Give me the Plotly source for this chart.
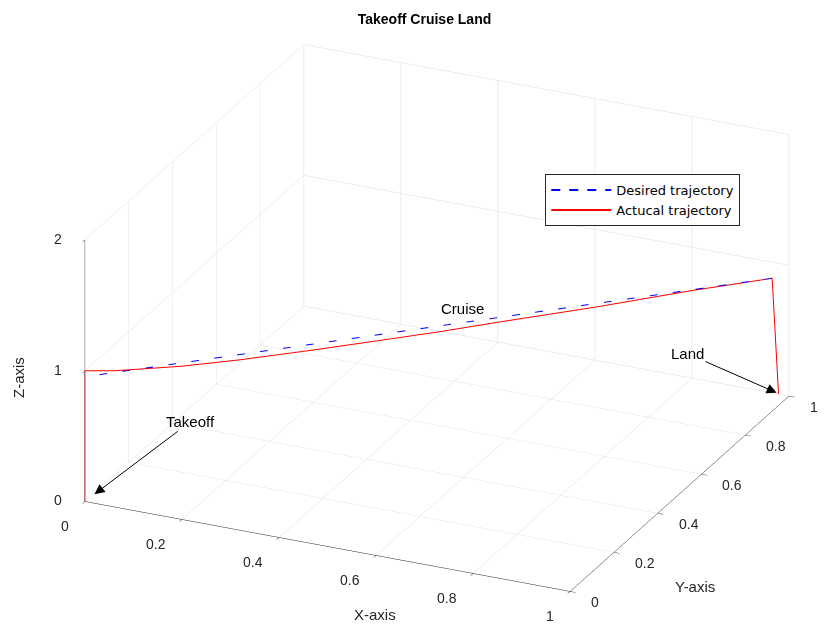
import math
import plotly.graph_objects as go

# desired path (takeoff -> cruise -> land)
des_x = [0.0, 0.0, 0.976, 0.985]
des_y = [0.0, 0.0, 0.976, 0.985]
des_z = [0.0, 0.954, 0.92, 0.03]

act_x = [0.0, 0.0, 0.042, 0.136, 0.22, 0.323, 0.417, 0.501, 0.586, 0.726, 0.862, 0.976, 0.985]
act_y = [0.0, 0.0, 0.042, 0.136, 0.22, 0.323, 0.417, 0.501, 0.586, 0.726, 0.862, 0.976, 0.985]
act_z = [0.0, 1.0, 0.966, 0.924, 0.906, 0.897, 0.894, 0.892, 0.898, 0.902, 0.918, 0.92, 0.03]

xy_ticks = [0, 0.2, 0.4, 0.6, 0.8, 1]
xy_labels = ["0", "0.2", "0.4", "0.6", "0.8", "1"]
z_ticks = [0, 1, 2]
z_labels = ["0", "1", "2"]

FONT = "Liberation Sans, Arial, sans-serif"
AXCOL = "#262626"

# view (MATLAB-like orthographic)
el = math.radians(24)
az = math.radians(-65.5)
eye = dict(x=2 * math.cos(el) * math.cos(az),
           y=2 * math.cos(el) * math.sin(az),
           z=2 * math.sin(el))
zoom = 1.72

fig = go.Figure()
fig.add_trace(go.Scatter3d(x=des_x, y=des_y, z=des_z, mode="lines",
                           line=dict(color="blue", width=2, dash="dash"),
                           name="Desired trajectory"))
fig.add_trace(go.Scatter3d(x=act_x, y=act_y, z=act_z, mode="lines",
                           line=dict(color="red", width=2),
                           name="Actucal trajectory"))

axis_common = dict(showbackground=False, gridcolor="#dddddd", gridwidth=1,
                   showline=True, linecolor=AXCOL, linewidth=1,
                   ticks="outside", tickcolor=AXCOL, ticklen=6,
                   showticklabels=False,
                   zeroline=False, showspikes=False, title=dict(text=""))

tick_font = dict(family=FONT, size=14, color=AXCOL)
scene_ann = []
for v, t in zip(xy_ticks, xy_labels):
    scene_ann.append(dict(x=v, y=0, z=0, text=t, showarrow=False, font=tick_font,
                          xanchor="right", xshift=-14, yshift=-25))
for v, t in zip(xy_ticks, xy_labels):
    scene_ann.append(dict(x=1, y=v, z=0, text=t, showarrow=False, font=tick_font,
                          xanchor="left", xshift=19, yshift=-11))
for v, t in zip(z_ticks, z_labels):
    scene_ann.append(dict(x=0, y=0, z=v, text=t, showarrow=False, font=tick_font,
                          xanchor="right", xshift=-21, yshift=1))

scene_ann += [
    dict(x=0, y=0, z=0, text="Takeoff", showarrow=True, standoff=12,
         arrowhead=2, arrowsize=2, arrowwidth=1, arrowcolor="black",
         ax=106, ay=-80, font=dict(family=FONT, size=15, color="black")),
    dict(x=0.985, y=0.985, z=0.03, text="Land", showarrow=True, standoff=2,
         arrowhead=2, arrowsize=2, arrowwidth=1, arrowcolor="black",
         ax=-91, ay=-40, font=dict(family=FONT, size=15, color="black")),
]

fig.update_layout(
    width=833, height=639,
    paper_bgcolor="white",
    margin=dict(l=0, r=0, t=0, b=0),
    title=dict(text="<b>Takeoff Cruise Land</b>", x=0.5, y=0.99, xanchor="center",
               yanchor="top", font=dict(family=FONT, size=14, color="black")),
    scene=dict(
        domain=dict(x=[0.042, 0.988], y=[0.03, 1.0]),
        xaxis=dict(range=[0, 1], tickvals=xy_ticks, **axis_common),
        yaxis=dict(range=[0, 1], tickvals=xy_ticks, **axis_common),
        zaxis=dict(range=[0, 2], tickvals=z_ticks, **axis_common),
        aspectmode="manual",
        aspectratio=dict(x=1 * zoom, y=0.99 * zoom, z=0.537 * zoom),
        camera=dict(projection=dict(type="orthographic"), eye=eye,
                    up=dict(x=0, y=0, z=1)),
        annotations=scene_ann,
    ),
    legend=dict(x=0.645, y=0.74, xanchor="left", yanchor="top",
                bgcolor="white", bordercolor=AXCOL, borderwidth=1,
                font=dict(family="DejaVu Sans, sans-serif", size=13, color="black"),
                tracegroupgap=0, itemwidth=60),
    annotations=[
        dict(text="Cruise", x=455 / 833, y=1 - 300 / 639, xref="paper", yref="paper",
             showarrow=False, font=dict(family=FONT, size=15, color="black")),
        dict(text="X-axis", x=367 / 833, y=1 - 617 / 639, xref="paper", yref="paper",
             showarrow=False, font=dict(family=FONT, size=15, color=AXCOL)),
        dict(text="Y-axis", x=709 / 833, y=1 - 589 / 639, xref="paper", yref="paper",
             showarrow=False, font=dict(family=FONT, size=15, color=AXCOL)),
        dict(text="Z-axis", x=10 / 833, y=1 - 370 / 639, xref="paper", yref="paper",
             xanchor="center", yanchor="middle",
             showarrow=False, textangle=-90, font=dict(family=FONT, size=15, color=AXCOL)),
    ],
)

fig.write_html("out.html")
